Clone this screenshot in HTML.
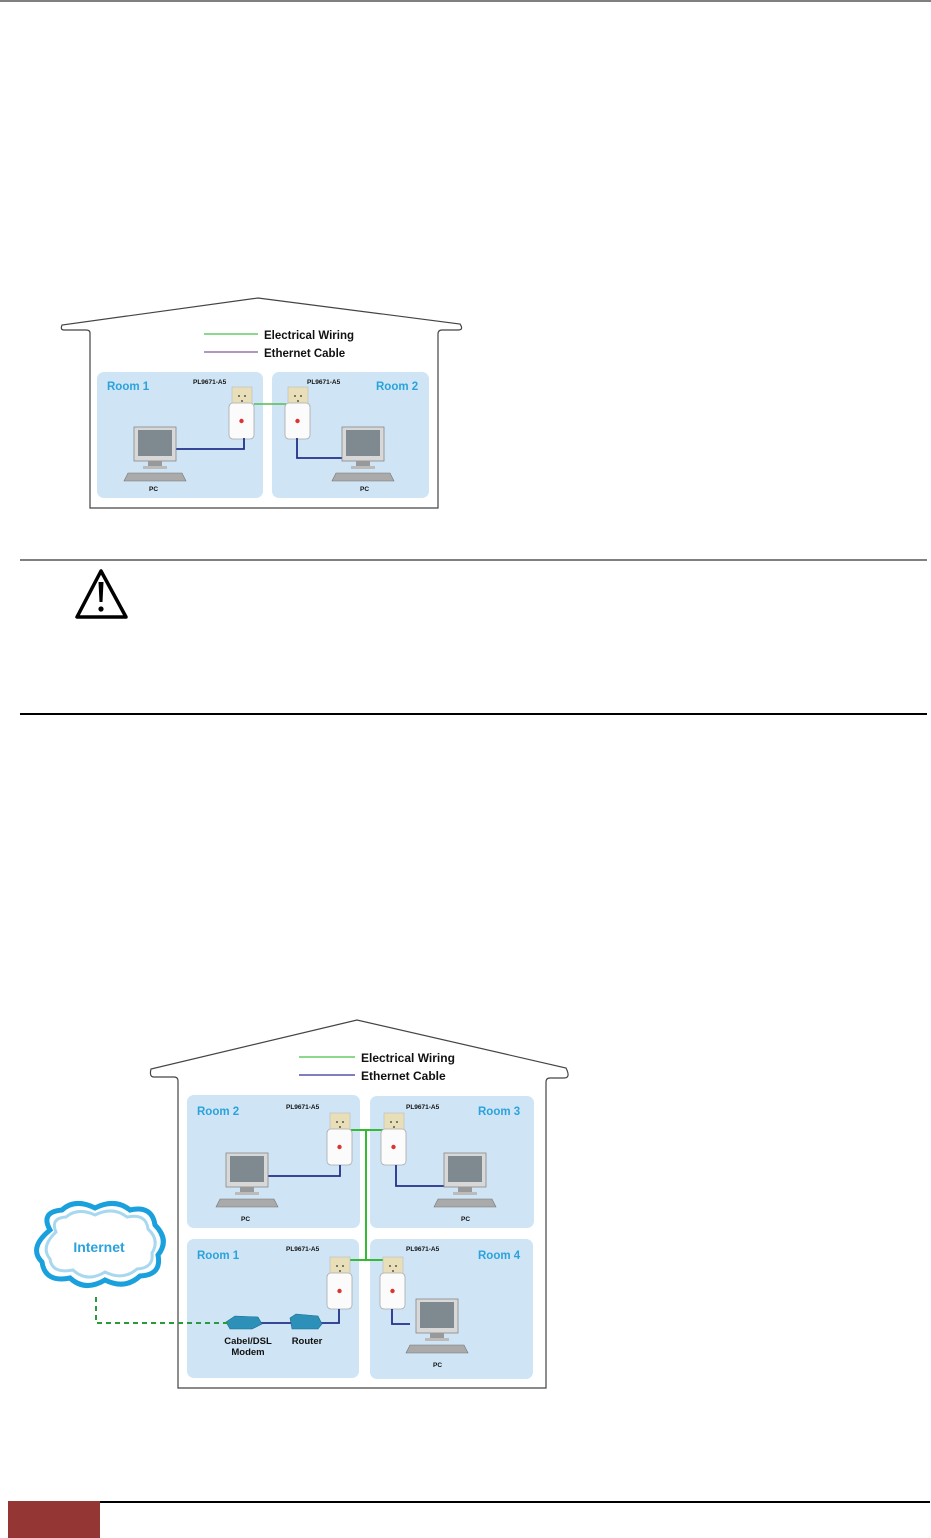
<!DOCTYPE html>
<html><head><meta charset="utf-8"><style>
html,body{margin:0;padding:0;background:#fff;}
svg{display:block;}
text{font-family:"Liberation Sans",Arial,sans-serif;font-weight:bold;}
</style></head><body>
<svg width="931" height="1538" viewBox="0 0 931 1538" xmlns="http://www.w3.org/2000/svg">
<defs>
<g id="adapter">
  <rect x="3" y="0" width="20" height="20" fill="#e8dfb8" stroke="#bbb" stroke-width="0.6"/>
  <circle cx="10" cy="9" r="1" fill="#555"/><circle cx="16" cy="9" r="1" fill="#555"/><circle cx="13" cy="14" r="1" fill="#555"/>
  <rect x="0" y="16" width="25" height="36" rx="4" fill="#fbfbfb" stroke="#aaa" stroke-width="0.8"/>
  <circle cx="12.5" cy="34" r="2.2" fill="#d33"/>
</g>
<g id="pc">
  <rect x="0" y="0" width="42" height="34" fill="#d8d8d8" stroke="#888" stroke-width="0.8"/>
  <rect x="4" y="3" width="34" height="26" fill="#7f8a90"/>
  <rect x="14" y="34" width="14" height="5" fill="#999"/>
  <rect x="9" y="39" width="24" height="3" fill="#bbb"/>
  <polygon points="-6,46 48,46 52,54 -10,54" fill="#aaa" stroke="#777" stroke-width="0.6"/>
</g>
</defs>
<line x1="0" y1="1" x2="931" y2="1" stroke="#000" stroke-width="1"/>

<!-- diagram 1 -->
<path d="M90,508 L90,333 Q90,330 86,330 L64,330 Q60,330 62,325 L258,298 L460,324 Q464,330 458,330 L442,330 Q438,330 438,334 L438,508 Z" fill="#fff" stroke="#444" stroke-width="1.2"/>
<rect x="97" y="372" width="166" height="126" rx="7" fill="#cfe4f5"/>
<rect x="272" y="372" width="157" height="126" rx="7" fill="#cfe4f5"/>
<line x1="204" y1="334" x2="258" y2="334" stroke="#6c6" stroke-width="1.5"/>
<line x1="204" y1="352" x2="258" y2="352" stroke="#97a" stroke-width="1.5"/>
<text x="264" y="339" font-size="11.5" fill="#111">Electrical Wiring</text>
<text x="264" y="357" font-size="11.5" fill="#111">Ethernet Cable</text>
<text x="107" y="390" font-size="11.5" fill="#2aa3dc">Room 1</text>
<text x="376" y="390" font-size="11.5" fill="#2aa3dc">Room 2</text>
<text x="193" y="384" font-size="6.5" fill="#111">PL9671-A5</text>
<text x="307" y="384" font-size="6.5" fill="#111">PL9671-A5</text>
<line x1="254" y1="404" x2="286" y2="404" stroke="#5b5" stroke-width="1.5"/>
<use href="#adapter" x="229" y="387"/>
<use href="#adapter" x="285" y="387"/>
<polyline points="244,438 244,449 175,449" fill="none" stroke="#23308a" stroke-width="1.8"/>
<polyline points="297,438 297,458 343,458" fill="none" stroke="#23308a" stroke-width="1.8"/>
<use href="#pc" x="134" y="427"/>
<use href="#pc" x="342" y="427"/>
<text x="149" y="491" font-size="6.5" fill="#111">PC</text>
<text x="360" y="491" font-size="6.5" fill="#111">PC</text>

<!-- warning -->
<line x1="20" y1="560" x2="927" y2="560" stroke="#000" stroke-width="1"/>
<path d="M101,571 L77,617 L126,617 Z" fill="#fff" stroke="#000" stroke-width="3.5" stroke-linejoin="round"/>
<path d="M98.5,582 L103.5,582 L102.5,602 L99.5,602 Z" fill="#000"/>
<circle cx="101" cy="609" r="2.6" fill="#000"/>
<line x1="20" y1="714" x2="927" y2="714" stroke="#000" stroke-width="2"/>

<!-- diagram 2 -->
<path d="M178,1388 L178,1081 Q178,1077 174,1077 L154,1077 Q149,1077 151,1069 L357,1020 L566,1068 Q571,1078 564,1078 L550,1078 Q546,1078 546,1082 L546,1388 Z" fill="#fff" stroke="#444" stroke-width="1.2"/>
<rect x="187" y="1095" width="173" height="133" rx="7" fill="#cfe4f5"/>
<rect x="370" y="1096" width="164" height="132" rx="7" fill="#cfe4f5"/>
<rect x="187" y="1239" width="172" height="139" rx="7" fill="#cfe4f5"/>
<rect x="370" y="1239" width="163" height="140" rx="7" fill="#cfe4f5"/>
<line x1="299" y1="1057" x2="355" y2="1057" stroke="#6c6" stroke-width="1.5"/>
<line x1="299" y1="1075" x2="355" y2="1075" stroke="#55a" stroke-width="1.5"/>
<text x="361" y="1062" font-size="12" fill="#111">Electrical Wiring</text>
<text x="361" y="1080" font-size="12" fill="#111">Ethernet Cable</text>
<text x="197" y="1115" font-size="11.5" fill="#2aa3dc">Room 2</text>
<text x="478" y="1115" font-size="11.5" fill="#2aa3dc">Room 3</text>
<text x="197" y="1259" font-size="11.5" fill="#2aa3dc">Room 1</text>
<text x="478" y="1259" font-size="11.5" fill="#2aa3dc">Room 4</text>
<text x="286" y="1109" font-size="6.5" fill="#111">PL9671-A5</text>
<text x="406" y="1109" font-size="6.5" fill="#111">PL9671-A5</text>
<text x="286" y="1251" font-size="6.5" fill="#111">PL9671-A5</text>
<text x="406" y="1251" font-size="6.5" fill="#111">PL9671-A5</text>
<g stroke="#3b3" stroke-width="2" fill="none">
<line x1="366" y1="1130" x2="366" y2="1260"/>
<line x1="351" y1="1130" x2="383" y2="1130"/>
<line x1="350" y1="1260" x2="383" y2="1260"/>
</g>
<use href="#adapter" x="327" y="1113"/>
<use href="#adapter" x="381" y="1113"/>
<use href="#adapter" x="327" y="1257"/>
<use href="#adapter" x="380" y="1257"/>
<g stroke="#23308a" stroke-width="1.8" fill="none">
<polyline points="340,1165 340,1176 268,1176"/>
<polyline points="396,1165 396,1186 447,1186"/>
<polyline points="339,1309 339,1323 318,1323"/>
<polyline points="258,1323 292,1323"/>
<polyline points="392,1309 392,1324 410,1324"/>
</g>
<use href="#pc" x="226" y="1153"/>
<use href="#pc" x="444" y="1153"/>
<use href="#pc" x="416" y="1299"/>
<text x="241" y="1221" font-size="6.5" fill="#111">PC</text>
<text x="461" y="1221" font-size="6.5" fill="#111">PC</text>
<text x="433" y="1367" font-size="6.5" fill="#111">PC</text>
<polygon points="226,1322 235,1316 258,1317 262,1324 252,1329 230,1329" fill="#2d90b8" stroke="#1b6d8c" stroke-width="0.6"/>
<polygon points="290,1318 296,1314 318,1316 322,1324 318,1329 292,1329" fill="#2d90b8" stroke="#1b6d8c" stroke-width="0.6"/>
<text x="248" y="1344" font-size="9.5" fill="#111" text-anchor="middle">Cabel/DSL</text>
<text x="248" y="1355" font-size="9.5" fill="#111" text-anchor="middle">Modem</text>
<text x="307" y="1344" font-size="9.5" fill="#111" text-anchor="middle">Router</text>
<polyline points="96,1297 96,1323 228,1323" fill="none" stroke="#2a9a3a" stroke-width="2" stroke-dasharray="5,4"/>
<!-- cloud -->
<path d="M50,1230 Q40,1212 62,1210 Q75,1198 95,1208 Q115,1198 130,1210 Q152,1205 155,1225 Q170,1240 158,1255 Q162,1275 140,1276 Q125,1290 105,1280 Q85,1292 70,1278 Q45,1283 42,1262 Q28,1248 50,1230 Z" fill="#fff" stroke="#1aa0dc" stroke-width="5"/>
<path d="M56,1232 Q50,1218 66,1217 Q78,1207 95,1215 Q113,1206 127,1217 Q146,1213 148,1229 Q160,1240 152,1253 Q154,1268 137,1269 Q123,1281 105,1272 Q87,1283 73,1270 Q52,1274 50,1259 Q40,1247 56,1232 Z" fill="#fff" stroke="#a8d8f0" stroke-width="3"/>
<text x="99" y="1252" font-size="14" fill="#2aa3dc" text-anchor="middle">Internet</text>

<!-- footer -->
<rect x="8" y="1501" width="92" height="37" fill="#943634"/>
<line x1="100" y1="1502" x2="930" y2="1502" stroke="#000" stroke-width="2"/>
</svg>
</body></html>
